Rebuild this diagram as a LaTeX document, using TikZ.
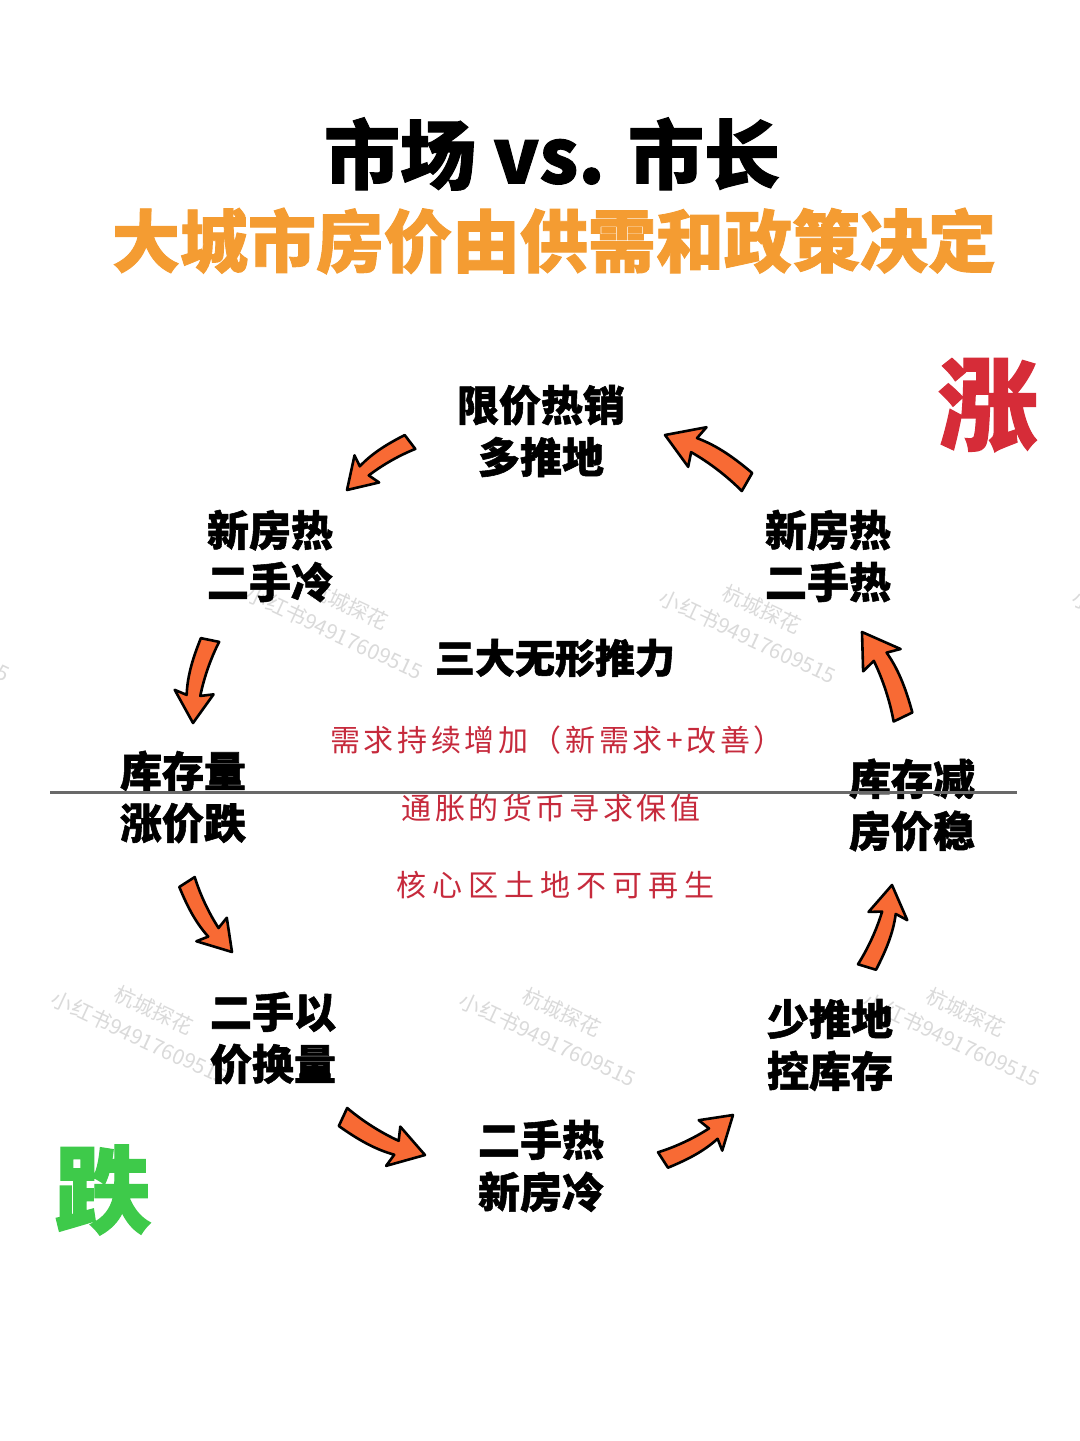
\documentclass[tikz,border=0pt]{standalone}
\usepackage{fontspec}
\newfontfamily\cjkh[BoldFeatures={FakeBold=1.3}]{Noto Sans CJK SC}
\newfontfamily\cjkr[LetterSpace=12]{Noto Sans CJK SC}
\newfontfamily\cjkrw[LetterSpace=20]{Noto Sans CJK SC}
\newfontfamily\cjkw{Noto Sans CJK SC}
\definecolor{arrorange}{RGB}{248,106,52}
\definecolor{titleorange}{RGB}{244,156,50}
\definecolor{forcered}{RGB}{198,42,60}
\definecolor{upred}{RGB}{214,44,56}
\definecolor{downgreen}{RGB}{62,202,74}
\definecolor{wmgray}{RGB}{218,218,218}
\definecolor{linegray}{RGB}{105,105,105}
\tikzset{
  fatarrow/.style={fill=arrorange, draw=black, line width=1.3pt, line join=round},
  cyclelabel/.style={inner sep=0pt, align=center, text=black,
    font=\cjkh\bfseries\fontsize{21pt}{26pt}\selectfont},
  forcetext/.style={inner sep=0pt, text=forcered, font=\cjkr\fontsize{15pt}{18pt}\selectfont},
  wmk/.style={inner sep=0pt, text=wmgray, rotate=-25, font=\cjkw\fontsize{10.5pt}{12pt}\selectfont}
}
\newcommand\myarrow[4]{%
  \pgfmathsetmacro\adx{#3-#1}%
  \pgfmathsetmacro\ady{#4-#2}%
  \pgfmathsetmacro\aang{atan2(-\ady,\adx)}%
  \pgfmathsetmacro\alen{veclen(\adx,\ady)/100}%
  \draw[fatarrow, shift={(#1,#2)}, rotate=\aang, scale=\alen]
    (0,-11) .. controls (22,-5) and (45,-2) .. (67,-2) -- (62,-17) -- (100,0)
    -- (66,29) -- (69,14) .. controls (45,18) and (22,15) .. (0,11) -- cycle;
}
\newcommand\wmark[3]{%
  \node[wmk] (#3a) at (#1,#2) {小红书94917609515};
  \node[wmk] (#3b) at (#1+14,#2-28) {杭城探花};
}
\begin{document}
\begin{tikzpicture}[x=0.5pt,y=-0.5pt]
\useasboundingbox (0,0) rectangle (1080,1441);
\fill[white] (0,0) rectangle (1080,1441);
% watermarks
\begin{scope}
  \clip (0,0) rectangle (1080,1441);
  \wmark{-78}{635}{wma}
  \wmark{335}{633}{wmb}
  \wmark{748}{637}{wmc}
  \wmark{1161}{637}{wmd}
  \wmark{140}{1038}{wme}
  \wmark{548}{1040}{wmf}
  \wmark{952}{1040}{wmg}
\end{scope}
% titles
\node[inner sep=0pt, font=\cjkh\bfseries\fontsize{38pt}{40pt}\selectfont] (title) at (552,154) {市场 vs. 市长};
\node[inner sep=0pt, text=titleorange, font=\cjkh\bfseries\fontsize{34pt}{36pt}\selectfont] (subtitle) at (554,241) {大城市房价由供需和政策决定};
% rise / fall
\node[inner sep=0pt, text=upred, font=\cjkh\bfseries\fontsize{50pt}{52pt}\selectfont] (up) at (988,405) {涨};
\node[inner sep=0pt, text=downgreen, font=\cjkh\bfseries\fontsize{48pt}{50pt}\selectfont] (down) at (103,1190) {跌};
% cycle labels
\node[cyclelabel] (top) at (541,431) {限价热销\\多推地};
\node[cyclelabel] (ul) at (270,556) {新房热\\二手冷};
\node[cyclelabel] (ur) at (828,556) {新房热\\二手热};
\node[cyclelabel] (ml) at (183,797) {库存量\\涨价跌};
\node[cyclelabel] (mr) at (912,805) {库存减\\房价稳};
\node[cyclelabel] (ll) at (273,1038) {二手以\\价换量};
\node[cyclelabel] (lr) at (830,1045) {少推地\\控库存};
\node[cyclelabel] (bot) at (541,1166) {二手热\\新房冷};
% centre
\node[inner sep=0pt, font=\cjkh\bfseries\fontsize{20pt}{22pt}\selectfont] (forces) at (555,658) {三大无形推力};
\node[forcetext] (f1) at (557,740) {需求持续增加（新需求+改善）};
\node[forcetext] (f2) at (551,808) {通胀的货币寻求保值};
\node[forcetext, font=\cjkrw\fontsize{15pt}{18pt}\selectfont] (f3) at (555,885) {核心区土地不可再生};
% divider
\coordinate (divl) at (50,792);
\coordinate (divr) at (1017,792);
\draw[linegray, line width=1.5pt] (divl) -- (divr);
% arrows
\myarrow{410}{442}{347}{490}
\myarrow{747}{482}{665}{435}
\myarrow{210}{640}{193}{723}
\myarrow{903}{717}{862}{632}
\myarrow{187}{882}{232}{952}
\myarrow{343}{1117}{425}{1155}
\myarrow{663}{1160}{733}{1115}
\myarrow{867}{967}{892}{885}
\end{tikzpicture}
\end{document}
